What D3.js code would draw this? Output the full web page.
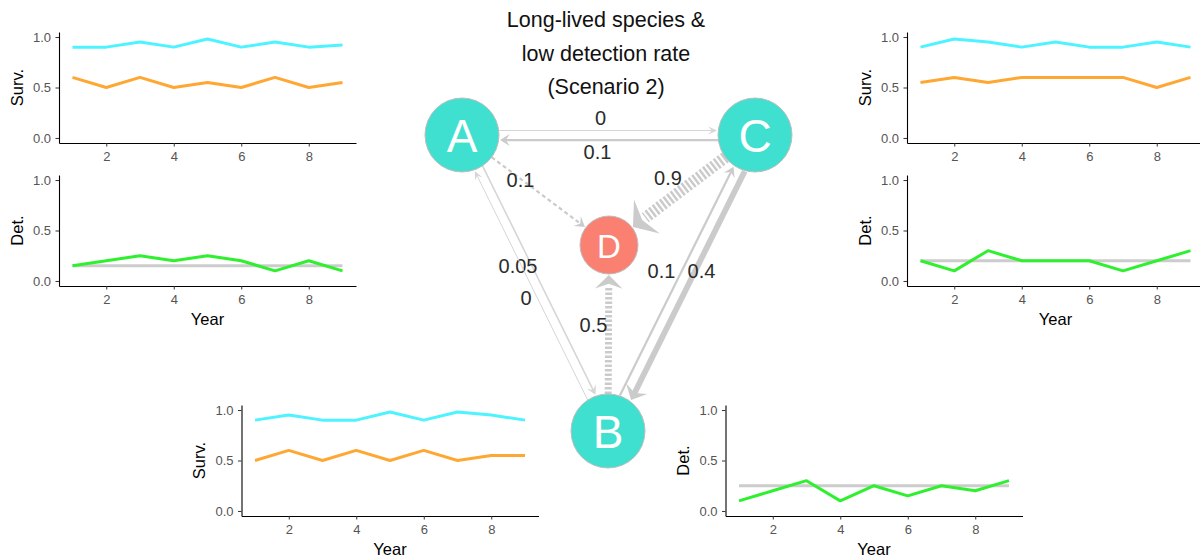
<!DOCTYPE html>
<html>
<head>
<meta charset="utf-8">
<script src="https://cdn.jsdelivr.net/npm/d3@7"></script>
<style>
  body { margin: 0; background: #fff; }
  svg { font-family: "Liberation Sans", Arial, sans-serif; }
</style>
</head>
<body>
<div id="chart"></div>
<script>
// --- data -------------------------------------------------------------
const years = [1, 2, 3, 4, 5, 6, 7, 8, 9];
const xTicks = [2, 4, 6, 8];
const yTicks = [0, 0.5, 1];

// site A (top left)
const survHighA = [0.9, 0.9, 0.95, 0.9, 0.98, 0.9, 0.95, 0.9, 0.92];
const survLowA  = [0.6, 0.5, 0.6, 0.5, 0.55, 0.5, 0.6, 0.5, 0.55];
const detA      = [0.15, 0.2, 0.25, 0.2, 0.25, 0.2, 0.1, 0.2, 0.1];
const detMeanA  = 0.15;

// site C (top right)
const survHighC = [0.9, 0.98, 0.95, 0.9, 0.95, 0.9, 0.9, 0.95, 0.9];
const survLowC  = [0.55, 0.6, 0.55, 0.6, 0.6, 0.6, 0.6, 0.5, 0.6];
const detC      = [0.2, 0.1, 0.3, 0.2, 0.2, 0.2, 0.1, 0.2, 0.3];
const detMeanC  = 0.2;

// site B (bottom)
const survHighB = [0.9, 0.95, 0.9, 0.9, 0.98, 0.9, 0.98, 0.95, 0.9];
const survLowB  = [0.5, 0.6, 0.5, 0.6, 0.5, 0.6, 0.5, 0.55, 0.55];
const detB      = [0.1, 0.2, 0.3, 0.1, 0.25, 0.15, 0.25, 0.2, 0.3];
const detMeanB  = 0.25;

// transitions between states
const nodeNames = ["A", "B", "C", "D"];
const edgeFrom  = ["A", "C", "A", "C", "A", "B", "C", "B", "B"];
const edgeTo    = ["C", "A", "D", "D", "B", "A", "B", "C", "D"];
const edgeValue = [0, 0.1, 0.1, 0.9, 0.05, 0, 0.4, 0.1, 0.5];

const titleLines = ["Long-lived species &", "low detection rate", "(Scenario 2)"];

// --- layout -----------------------------------------------------------
const width = 1200, height = 560;
const panelW = 297, panelH = 111;
const cyan = "#4df3ff", orange = "#ffa733", green = "#2ff02f", meanGrey = "#cccccc";

const nodePos = {
  A: {x: 462, y: 135, r: 37, fill: "#40e0d0", fs: 46},
  B: {x: 608, y: 431, r: 37, fill: "#40e0d0", fs: 46},
  C: {x: 755, y: 135, r: 37, fill: "#40e0d0", fs: 46},
  D: {x: 609, y: 245, r: 29, fill: "#fa8072", fs: 33}
};
// label offsets from edge midpoint, per edge index
const labelOffset = [[-8, -17], [-11, 17], [-15, -10], [-14, -12], [-17, -17], [-9, 15], [20, -12], [-20, -12], [-15, -13]];

const svg = d3.select("#chart").append("svg")
  .attr("width", width)
  .attr("height", height);

function drawPanel(left, top, title, series, mean, showYear) {
  const x = d3.scaleLinear().domain([0.6, 9.4]).range([left, left + panelW]);
  const y = d3.scaleLinear().domain([-0.05, 1.05]).range([top + panelH, top]);
  const g = svg.append("g");

  if (mean !== null) {
    g.append("line")
      .attr("x1", x(years[0]))
      .attr("x2", x(years[years.length - 1]))
      .attr("y1", y(mean))
      .attr("y2", y(mean))
      .attr("stroke", meanGrey)
      .attr("stroke-width", 3);
  }

  const line = d3.line().x((d, i) => x(years[i])).y(d => y(d));
  series.forEach(function(s) {
    g.append("path")
      .datum(s.values)
      .attr("d", line)
      .attr("fill", "none")
      .attr("stroke", s.color)
      .attr("stroke-width", 3)
      .attr("stroke-linejoin", "round");
  });

  const yAxis = g.append("g")
    .attr("transform", `translate(${left},0)`)
    .call(d3.axisLeft(y).tickValues(yTicks).tickFormat(d3.format(".1f"))
      .tickSize(3.5).tickSizeOuter(0).tickPadding(4.5));
  const xAxis = g.append("g")
    .attr("transform", `translate(0,${top + panelH})`)
    .call(d3.axisBottom(x).tickValues(xTicks)
      .tickSize(3.5).tickSizeOuter(0).tickPadding(5.5));

  [yAxis, xAxis].forEach(function(ax) {
    ax.select(".domain").attr("stroke", "#000").attr("stroke-width", 1.1);
    ax.selectAll(".tick line").attr("stroke", "#333");
    ax.selectAll(".tick text")
      .attr("fill", "#555")
      .style("font-size", "13px")
      .style("font-family", "'Liberation Sans', Arial, sans-serif");
  });

  g.append("text")
    .attr("transform", `translate(${left - 42.5},${top + panelH / 2}) rotate(-90)`)
    .attr("text-anchor", "middle")
    .attr("dominant-baseline", "central")
    .attr("font-size", 16.5)
    .attr("fill", "#000")
    .text(title);

  if (showYear) {
    g.append("text")
      .attr("x", left + panelW / 2)
      .attr("y", top + panelH + 33)
      .attr("text-anchor", "middle")
      .attr("dominant-baseline", "central")
      .attr("font-size", 16.5)
      .attr("fill", "#000")
      .text("Year");
  }
}

drawPanel(59, 32, "Surv.", [{values: survHighA, color: cyan}, {values: survLowA, color: orange}], null, false);
drawPanel(59, 175, "Det.", [{values: detA, color: green}], detMeanA, true);
drawPanel(907, 32, "Surv.", [{values: survHighC, color: cyan}, {values: survLowC, color: orange}], null, false);
drawPanel(907, 175, "Det.", [{values: detC, color: green}], detMeanC, true);
drawPanel(241.5, 405, "Surv.", [{values: survHighB, color: cyan}, {values: survLowB, color: orange}], null, true);
drawPanel(725.5, 405, "Det.", [{values: detB, color: green}], detMeanB, true);

// --- network ------------------------------------------------------------
const edgeWidth = d3.scaleLinear().domain([0, 1]).range([1, 13]);
const net = svg.append("g");

edgeFrom.forEach(function(from, i) {
  const to = edgeTo[i];
  const s = nodePos[from], t = nodePos[to];
  const w = edgeWidth(edgeValue[i]);
  const col = w < 2 ? "#d6d6d6" : "#cbcbcb";
  const dx = t.x - s.x, dy = t.y - s.y;
  const len = Math.hypot(dx, dy);
  const ux = dx / len, uy = dy / len;
  const nx = -uy, ny = ux;
  const paired = edgeFrom.some((f, j) => f === to && edgeTo[j] === from);
  const off = paired ? -(4 + w / 2) : 0;
  const dashed = to === "D";

  const x0 = s.x + ux * s.r + nx * off, y0 = s.y + uy * s.r + ny * off;
  const tipX = t.x - ux * (t.r + 1) + nx * off, tipY = t.y - uy * (t.r + 1) + ny * off;
  const L = 6 + 0.8 * w, hw = 2.5 + 1.6 * w;
  const backX = tipX - ux * L, backY = tipY - uy * L;
  const endX = dashed ? backX : tipX - ux * L * 0.6;
  const endY = dashed ? backY : tipY - uy * L * 0.6;

  net.append("line")
    .attr("x1", x0).attr("y1", y0)
    .attr("x2", endX).attr("y2", endY)
    .attr("stroke", col)
    .attr("stroke-width", w)
    .attr("stroke-dasharray", dashed ? (w > 4 ? "2.5,2" : "4,3") : null);

  const notchX = tipX - ux * L * 0.75, notchY = tipY - uy * L * 0.75;
  net.append("polygon")
    .attr("points", [
      [tipX, tipY],
      [backX - ux * 2 + nx * hw, backY - uy * 2 + ny * hw],
      [notchX, notchY],
      [backX - ux * 2 - nx * hw, backY - uy * 2 - ny * hw]
    ].map(p => p.join(",")).join(" "))
    .attr("fill", col);

  const mx = (s.x + t.x) / 2 + labelOffset[i][0];
  const my = (s.y + t.y) / 2 + labelOffset[i][1];
  net.append("text")
    .attr("x", mx).attr("y", my)
    .attr("text-anchor", "middle")
    .attr("dominant-baseline", "central")
    .attr("font-size", 20)
    .attr("fill", "#2b2b2b")
    .text(String(edgeValue[i]));
});

nodeNames.forEach(function(name) {
  const p = nodePos[name];
  net.append("circle")
    .attr("cx", p.x).attr("cy", p.y).attr("r", p.r)
    .attr("fill", p.fill)
    .attr("stroke", "#bdbdbd")
    .attr("stroke-width", 1);
  net.append("text")
    .attr("x", p.x).attr("y", p.y + 1)
    .attr("text-anchor", "middle")
    .attr("dominant-baseline", "central")
    .attr("font-size", p.fs)
    .attr("fill", "#fff")
    .text(name);
});

// --- title -------------------------------------------------------------
titleLines.forEach(function(t, i) {
  svg.append("text")
    .attr("x", 606)
    .attr("y", 20 + i * 33.5)
    .attr("text-anchor", "middle")
    .attr("dominant-baseline", "central")
    .attr("font-size", 21.5)
    .attr("fill", "#111")
    .text(t);
});
</script>
</body>
</html>
